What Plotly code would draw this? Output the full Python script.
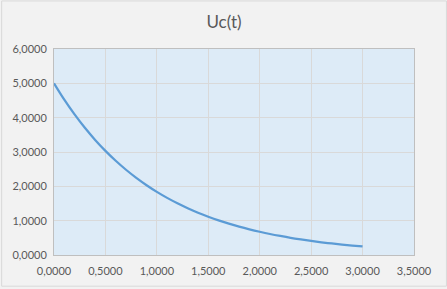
import plotly.graph_objects as go

t_values = [0.0, 0.1, 0.2, 0.3, 0.4, 0.5, 0.6, 0.7, 0.8, 0.9, 1.0,
            1.1, 1.2, 1.3, 1.4, 1.5, 1.6, 1.7, 1.8, 1.9, 2.0,
            2.1, 2.2, 2.3, 2.4, 2.5, 2.6, 2.7, 2.8, 2.9, 3.0]
uc_values = [5.000, 4.524, 4.094, 3.704, 3.352, 3.033, 2.744, 2.483, 2.247, 2.033, 1.839,
             1.664, 1.506, 1.363, 1.233, 1.116, 1.009, 0.913, 0.826, 0.748, 0.677,
             0.612, 0.554, 0.501, 0.454, 0.410, 0.371, 0.336, 0.304, 0.275, 0.249]
chart_title = "Uc(t)"

W, H = 447, 289
ml, mr, mt, mb = 53, 33, 49, 32
pw, ph = W - ml - mr, H - mt - mb

fig = go.Figure()
fig.add_trace(go.Scatter(x=t_values, y=uc_values, mode="lines",
                         line=dict(color="#5B9BD5", width=2.25), line_shape="spline",
                         hoverinfo="skip"))

grid = "#D9D9D9"
tickfont = dict(family="Lato, Open Sans, sans-serif", size=11, color="#595959")
fig.update_layout(
    width=W, height=H,
    margin=dict(l=ml, r=mr, t=mt, b=mb),
    paper_bgcolor="#F2F2F2",
    plot_bgcolor="#DDEBF7",
    separators=", ",
    showlegend=False,
    title=dict(text=chart_title, x=(W / 2 - ml) / pw, xref="paper", xanchor="center",
               y=1 - 22 / H, yanchor="middle",
               font=dict(family="Lato, Open Sans, sans-serif", size=17, color="#595959")),
    xaxis=dict(range=[0, 3.5], dtick=0.5, tick0=0, tickformat=".4f",
               showgrid=True, gridcolor=grid, gridwidth=1,
               showline=True, linecolor="#BFBFBF", linewidth=1, mirror=True,
               zeroline=False, ticks="", tickfont=tickfont, ticklabelstandoff=6),
    yaxis=dict(range=[0, 6], dtick=1, tick0=0, tickformat=".4f",
               showgrid=True, gridcolor=grid, gridwidth=1,
               showline=True, linecolor="#BFBFBF", linewidth=1, mirror=True,
               zeroline=False, ticks="", tickfont=tickfont, ticklabelstandoff=4),
    shapes=[dict(type="rect", xref="paper", yref="paper",
                 x0=(0.5 - ml) / pw, x1=(W - 0.5 - ml) / pw,
                 y0=-(mb - 0.5) / ph,
                 y1=1 + (mt - 0.5) / ph,
                 line=dict(color="#D9D9D9", width=1), fillcolor="rgba(0,0,0,0)", layer="above")],
)
fig.write_html("out.html")
